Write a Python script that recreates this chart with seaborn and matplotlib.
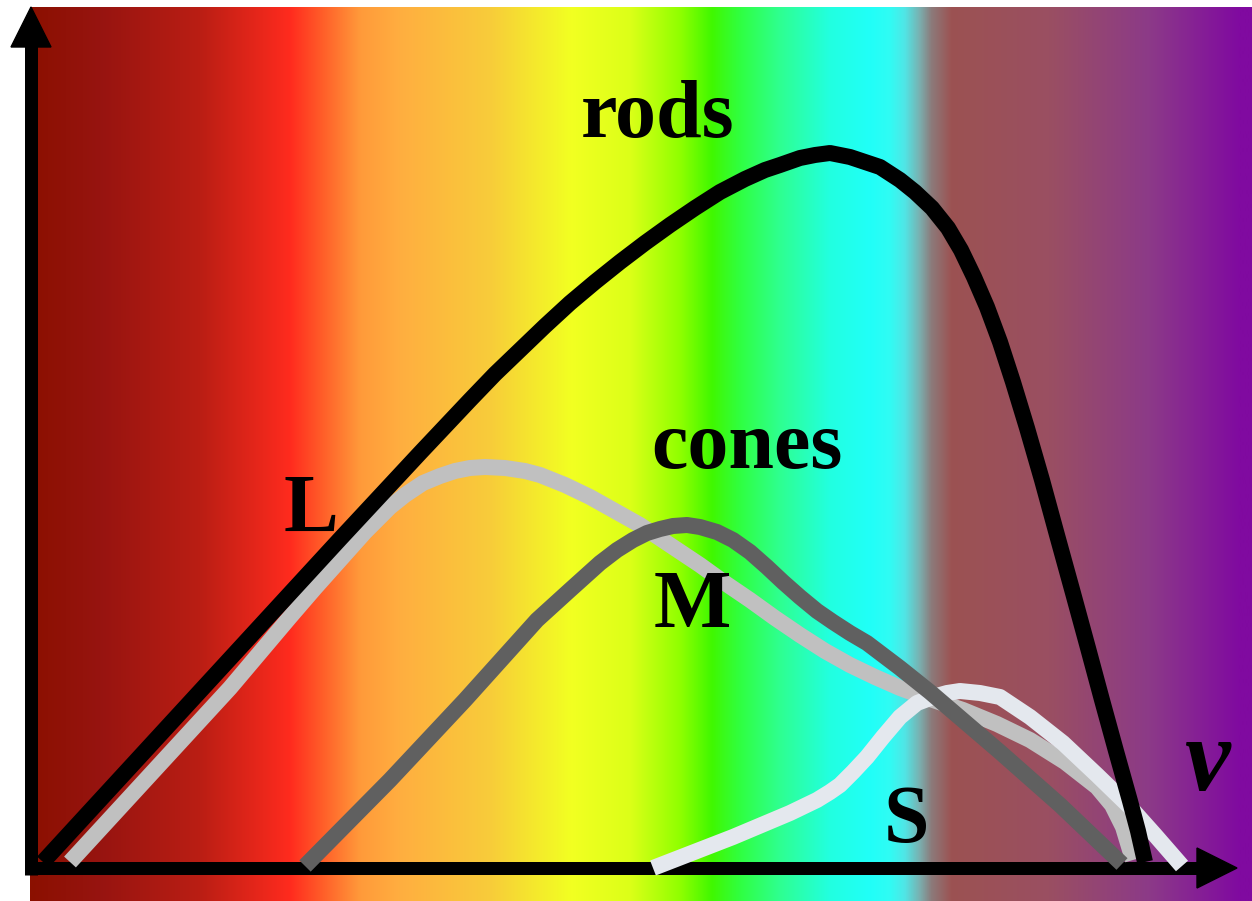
import numpy as np
import pandas as pd
import matplotlib
matplotlib.use("Agg")
import matplotlib.pyplot as plt
from matplotlib.colors import LinearSegmentedColormap
from matplotlib.patches import Polygon
import seaborn as sns

# ----------- DONNÉES (fréquence nu, réponse) ------------

rods_nu = [12, 69, 149, 229, 309, 389, 439, 464, 489, 514, 539, 564, 589, 614, 639,
           664, 689, 714, 734, 749, 769, 784, 799, 819, 834, 849, 869, 884, 901, 917,
           930, 943, 956, 969, 982, 996, 1011, 1026, 1042, 1057, 1071, 1085, 1099, 1107, 1114]
rods_resp = [6, 68, 155, 242, 329, 415, 468, 494, 518, 542, 565, 586, 606, 625, 643,
             660, 676, 689, 698, 703, 710, 713, 715, 711, 706, 701, 688, 676, 660, 640,
             618, 591, 561, 526, 486, 440, 388, 333, 275, 220, 168, 117, 67, 37, 6]

L_nu = [39, 119, 199, 259, 284, 309, 334, 359, 374, 392, 409, 424, 439, 454, 474,
        494, 509, 534, 559, 584, 609, 639, 669, 694, 719, 744, 769, 794, 819, 844,
        869, 899, 932, 966, 999, 1034, 1066, 1081, 1092, 1102]
L_resp = [6, 93, 180, 251, 280, 308, 336, 361, 373, 385, 392, 397, 400, 401, 400,
          397, 393, 383, 371, 357, 343, 323, 303, 285, 268, 250, 233, 217, 203, 191,
          180, 169, 158, 144, 128, 106, 81, 63, 41, 8]

M_nu = [274, 359, 434, 506, 539, 569, 586, 602, 616, 629, 642, 656, 669, 686, 702,
        719, 736, 752, 769, 786, 802, 819, 836, 869, 899, 969, 1029, 1091]
M_resp = [2, 88, 168, 248, 278, 305, 318, 328, 335, 339, 342, 343, 341, 336, 328,
          316, 301, 286, 271, 257, 246, 235, 225, 200, 176, 116, 63, 4]

S_nu = [622, 702, 759, 786, 799, 809, 822, 836, 852, 869, 886, 902, 916, 929, 949,
        969, 999, 1032, 1066, 1099, 1124, 1151]
S_resp = [0, 31, 55, 68, 76, 83, 96, 111, 131, 151, 165, 171, 175, 177, 175,
          171, 151, 125, 93, 61, 33, 2]

curve_names = ['L', 'S', 'M', 'rods']
curve_colors = ['#c0c0c0', '#e4e8ee', '#606060', '#000000']

# spectre de fond : positions (nu) et couleurs
spec_pos = [-1, 69, 169, 259, 289, 329, 369, 459, 539, 599, 649, 681, 709, 749,
            799, 839, 859, 874, 889, 901, 921, 1019, 1119, 1209, 1221]
spec_col = ['#8b1000', '#971410', '#ba1e14', '#ff2b1e', '#ff5a28', '#ff9a3a',
            '#ffae40', '#f8cc3a', '#f2ff22', '#dcff18', '#90ff00', '#40f800',
            '#30ff40', '#2eff90', '#22ffe0', '#20fff8', '#30fcf4', '#50e6e6',
            '#7ab0b0', '#8c7a7a', '#9c5252', '#9a4f62', '#8c3a88', '#800aa0',
            '#800aa0']

labels = ['rods', 'cones', 'L', 'M', 'S']
label_nu = [627, 716, 280, 661, 875]
label_resp = [731, 400, 337, 241, 26]

# ----------- FIGURE ------------

sns.set_style("white")
fig = plt.figure(figsize=(12.52, 9.01), dpi=100)
ax = fig.add_axes([0, 0, 1, 1])
ax.set_xlim(-31, 1221)
ax.set_ylim(-33, 868)
ax.axis('off')

# fond dégradé
span = spec_pos[-1] - spec_pos[0]
cmap = LinearSegmentedColormap.from_list(
    'spectre', [((p - spec_pos[0]) / span, c) for p, c in zip(spec_pos, spec_col)], N=1024)
grad = np.linspace(0, 1, 1024).reshape(1, -1)
ax.imshow(grad, cmap=cmap, aspect='auto', extent=(spec_pos[0], spec_pos[-1], -33, 861),
          interpolation='bilinear', zorder=0)

# axes avec flèches
ax_lw = 13 * 72 / 100
ax.plot([0, 0], [-7, 822], color='black', lw=ax_lw, solid_capstyle='butt', zorder=1)
ax.plot([-1, 1167], [0, 0], color='black', lw=ax_lw, solid_capstyle='butt', zorder=1)
ax.add_patch(Polygon([[-20, 821], [20, 821], [0, 861]], closed=True, color='black', zorder=1))
ax.add_patch(Polygon([[1166, 20], [1166, -20], [1206, 0]], closed=True, color='black', zorder=1))

# courbes
frames = []
for name, nu, resp in [('rods', rods_nu, rods_resp), ('L', L_nu, L_resp),
                       ('M', M_nu, M_resp), ('S', S_nu, S_resp)]:
    frames.append(pd.DataFrame({'curve': name, 'nu': nu, 'resp': resp}))
df = pd.concat(frames, ignore_index=True)

sns.lineplot(data=df, x='nu', y='resp', hue='curve', hue_order=curve_names,
             palette=dict(zip(curve_names, curve_colors)), sort=False, estimator=None,
             units='curve', linewidth=16 * 72 / 100, legend=False, ax=ax,
             solid_capstyle='butt', solid_joinstyle='round', zorder=2)
# dessin dans l'ordre L, S, M, rods
for i, line in enumerate(ax.lines[2:]):
    line.set_zorder(2 + i)

# étiquettes
for lab, x, y in zip(labels, label_nu, label_resp):
    ax.text(x, y, lab, ha='center', va='baseline', fontsize=59, fontweight='bold',
            family='Liberation Serif', color='black', zorder=10)
ax.text(1176, 78, 'ν', ha='center', va='baseline', fontsize=74, fontweight='bold',
        style='italic', family='Liberation Serif', color='black', zorder=10)

plt.savefig('out.png', dpi=100)
